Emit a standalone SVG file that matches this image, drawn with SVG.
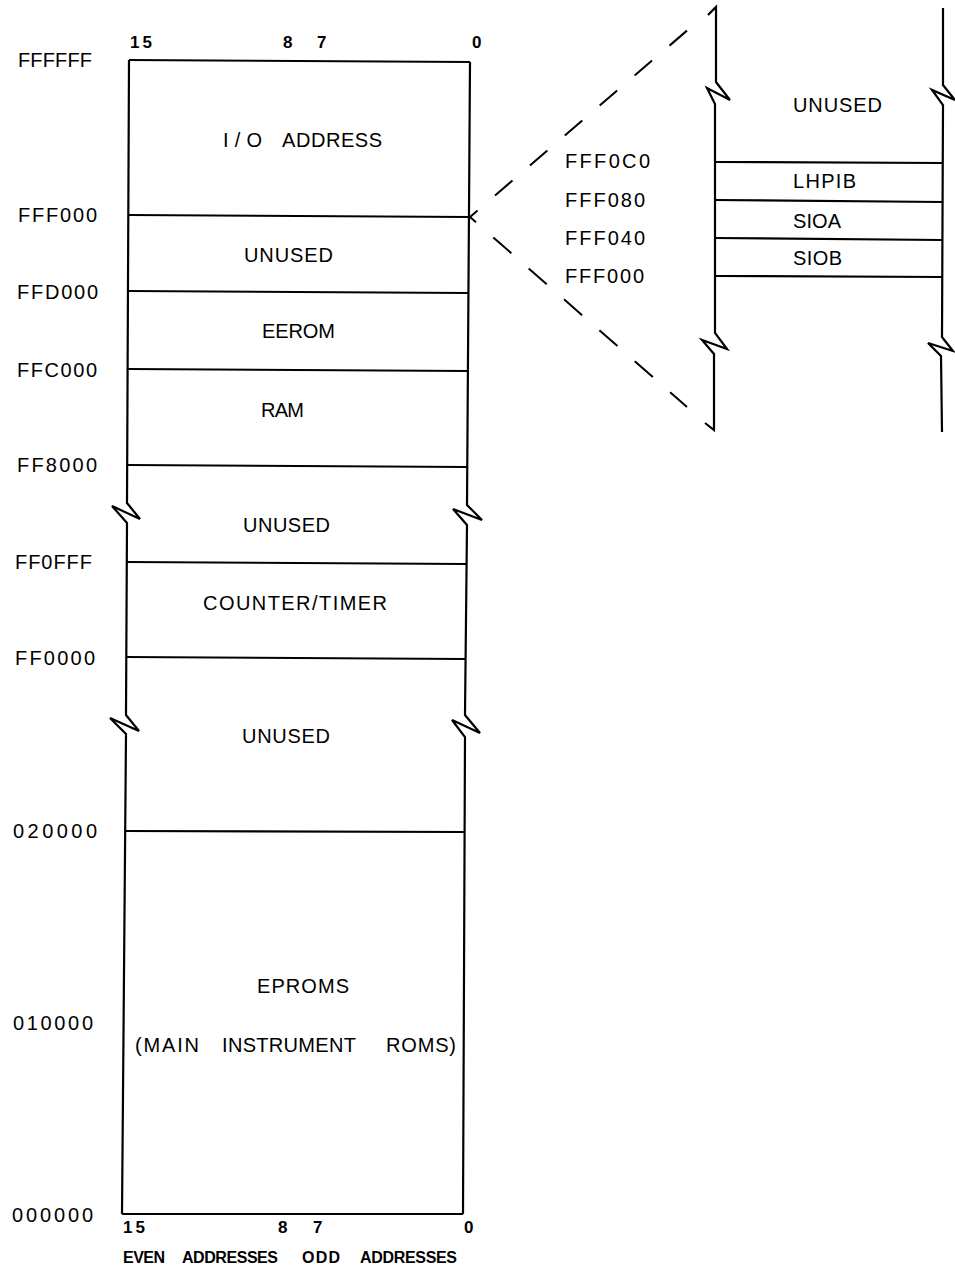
<svg xmlns="http://www.w3.org/2000/svg" width="955" height="1287" viewBox="0 0 955 1287">
<style>
  .ln { fill: none; stroke: #000; stroke-width: 2.2; stroke-linejoin: miter; stroke-linecap: butt; }
  .dash { fill: none; stroke: #000; stroke-width: 2; }
  text { font-family: "Liberation Sans", Arial, sans-serif; fill: #000; }
  .lbl { font-size: 20px; }
  .adr { font-size: 20px; }
  .bit { font-size: 17px; font-weight: bold; }
  .cap { font-size: 16px; font-weight: bold; }
</style>
<rect width="955" height="1287" fill="#fff"/>

<g id="memory-frame">
  <path class="ln" d="M129,60 L470,62"/>
  <path class="ln" d="M129,60 L127,503 L140,519 L112,506 L127,523 L126,715 L139,731 L110,718 L126,734 L122,1214"/>
  <path class="ln" d="M470,62 L467,505 L482,520 L453,509 L467,525 L465,715 L480,733 L452,720 L465,737 L463,1214"/>
  <path class="ln" d="M122,1214 L463,1214"/>
  <path class="ln" d="M128,215 L470,217"/>
  <path class="ln" d="M128,291 L468,293"/>
  <path class="ln" d="M128,369 L468,371"/>
  <path class="ln" d="M127,465 L467,467"/>
  <path class="ln" d="M127,562 L466,564"/>
  <path class="ln" d="M126,657 L465,659"/>
  <path class="ln" d="M125,831 L465,832"/>
</g>

<g id="bit-numbers">
  <text class="bit" x="130" y="48" textLength="22">15</text>
  <text class="bit" x="283" y="48">8</text>
  <text class="bit" x="317" y="48">7</text>
  <text class="bit" x="472" y="48">0</text>
  <text class="bit" x="123" y="1233" textLength="22">15</text>
  <text class="bit" x="278" y="1233">8</text>
  <text class="bit" x="313" y="1233">7</text>
  <text class="bit" x="464" y="1233">0</text>
  <text class="cap" y="1263"><tspan x="123" textLength="42">EVEN</tspan><tspan x="182" textLength="96">ADDRESSES</tspan><tspan x="302" textLength="38">ODD</tspan><tspan x="360" textLength="97">ADDRESSES</tspan></text>
</g>

<g id="address-labels">
  <text class="adr" x="18" y="67" textLength="74">FFFFFF</text>
  <text class="adr" x="18" y="222" textLength="79">FFF000</text>
  <text class="adr" x="17" y="299" textLength="81">FFD000</text>
  <text class="adr" x="17" y="377" textLength="80">FFC000</text>
  <text class="adr" x="17" y="472" textLength="80">FF8000</text>
  <text class="adr" x="15" y="569" textLength="77">FF0FFF</text>
  <text class="adr" x="15" y="665" textLength="80">FF0000</text>
  <text class="adr" x="13" y="838" textLength="84">020000</text>
  <text class="adr" x="13" y="1030" textLength="80">010000</text>
  <text class="adr" x="12" y="1222" textLength="81">000000</text>
</g>

<g id="region-io">
  <text class="lbl" y="147"><tspan x="223" textLength="39">I/O</tspan><tspan x="282" textLength="100">ADDRESS</tspan></text>
</g>
<g id="region-unused-1">
  <text class="lbl" x="244" y="262" textLength="89">UNUSED</text>
</g>
<g id="region-eerom">
  <text class="lbl" x="262" y="338" textLength="73">EEROM</text>
</g>
<g id="region-ram">
  <text class="lbl" x="261" y="417" textLength="43">RAM</text>
</g>
<g id="region-unused-2">
  <text class="lbl" x="243" y="532" textLength="87">UNUSED</text>
</g>
<g id="region-counter-timer">
  <text class="lbl" x="203" y="610" textLength="184">COUNTER/TIMER</text>
</g>
<g id="region-unused-3">
  <text class="lbl" x="242" y="743" textLength="88">UNUSED</text>
</g>
<g id="region-eproms">
  <text class="lbl" x="257" y="993" textLength="92">EPROMS</text>
  <text class="lbl" y="1052"><tspan x="135" textLength="64">(MAIN</tspan><tspan x="222" textLength="134">INSTRUMENT</tspan><tspan x="386" textLength="70">ROMS)</tspan></text>
</g>

<g id="io-detail">
  <path class="ln" d="M708,15 L716,7 L716,82 L730,100 L707,88 L715,104 L715,333 L727,349 L702,340 L714,354 L714,430 L705,423"/>
  <path class="ln" d="M943,8 L943,85 L955,100 L932,90 L943,105 L942,337 L953,351 L928,343 L941,356 L942,432"/>
  <path class="ln" d="M715,162 L942,163"/>
  <path class="ln" d="M715,200 L942,202"/>
  <path class="ln" d="M715,238 L942,240"/>
  <path class="ln" d="M715,276 L942,277"/>
  <text class="lbl" x="793" y="112" textLength="89">UNUSED</text>
  <text class="lbl" x="793" y="188" textLength="63">LHPIB</text>
  <text class="lbl" x="793" y="228" textLength="48">SIOA</text>
  <text class="lbl" x="793" y="265" textLength="49">SIOB</text>
  <text class="adr" x="565" y="168" textLength="85">FFF0C0</text>
  <text class="adr" x="565" y="207" textLength="80">FFF080</text>
  <text class="adr" x="565" y="245" textLength="80">FFF040</text>
  <text class="adr" x="565" y="283" textLength="79">FFF000</text>
</g>

<g id="connectors">
  <path class="dash" d="M470,217 L690,28" stroke-dasharray="23 23" stroke-dashoffset="13"/>
  <path class="dash" d="M470,217 L687,407" stroke-dasharray="24 23" stroke-dashoffset="16"/>
</g>
</svg>
